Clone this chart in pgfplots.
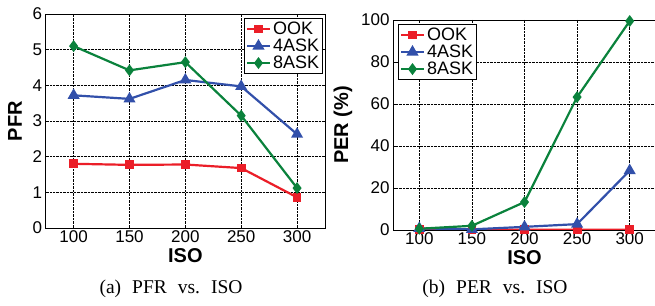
\documentclass[border=0pt]{standalone}
\usepackage{pgfplots}
\pgfplotsset{compat=1.18}
\usepackage{fontspec}
\setmainfont{Liberation Serif}
\setsansfont{Liberation Sans}
\definecolor{cred}{RGB}{235,30,40}
\definecolor{cblue}{RGB}{50,80,170}
\definecolor{cgreen}{RGB}{10,130,60}
\pgfplotsset{
  myax/.style={
    scale only axis,
    xmin=75, xmax=325,
    xtick={100,150,200,250,300},
    grid=major,
    grid style={black, densely dotted, line width=0.5pt},
    axis line style={black, line width=0.8pt},
    major tick length=3pt,
    tick style={black, line width=0.6pt},
    tick align=inside,
    xtick pos=bottom, ytick pos=left,
    /pgf/number format/assume math mode=true,
    ticklabel style={font=\sffamily\fontsize{17}{19}\selectfont},
    xticklabel style={yshift=1pt},
    label style={font=\sffamily\bfseries\fontsize{20}{22}\selectfont},
    xlabel={ISO},
    xlabel style={yshift=1pt},
    legend style={font=\sffamily\fontsize{18}{20}\selectfont, draw=black, line width=0.8pt,
      inner sep=1.5pt, row sep=-1pt, cells={anchor=west}},
    legend cell align=left,
    legend image code/.code={\draw[mark repeat=2,mark phase=2] plot coordinates {(0pt,0pt) (11.5pt,0pt) (23pt,0pt)};},
    every axis plot/.append style={line width=2.2pt},
  },
  ook/.style={cred, mark=square*, mark size=3.3pt, mark options={solid}},
  ask4/.style={cblue, mark=triangle*, mark size=4.8pt, mark options={solid}},
  ask8/.style={cgreen, mark=diamond*, mark size=4.2pt, mark options={solid}},
}
\newcommand{\gap}{\hspace{11pt}}
\begin{document}
\begin{tikzpicture}
\begin{axis}[myax, at={(45.7pt,77pt)}, anchor=south west, width=279.3pt, height=214pt,
  ymin=0, ymax=6, ytick={0,1,2,3,4,5,6}, ylabel={PFR}, ylabel style={yshift=4pt},
  legend style={at={(1,1)}, anchor=north east, xshift=-2pt, yshift=-4pt}]
\addplot[ook] coordinates {(100,1.80) (150,1.77) (200,1.78) (250,1.68) (300,0.86)};
\addlegendentry{OOK}
\addplot[ask4] coordinates {(100,3.72) (150,3.62) (200,4.15) (250,3.97) (300,2.63)};
\addlegendentry{4ASK}
\addplot[ask8] coordinates {(100,5.10) (150,4.42) (200,4.65) (250,3.15) (300,1.12)};
\addlegendentry{8ASK}
\end{axis}
\begin{axis}[myax, at={(393pt,75pt)}, anchor=south west, width=263pt, height=210pt,
  ymin=0, ymax=100, ytick={0,20,40,60,80,100}, ylabel={PER (\%)}, ylabel style={yshift=2pt},
  legend style={at={(0,1)}, anchor=north west, xshift=5pt, yshift=-4pt}]
\addplot[ook] coordinates {(100,0.2) (150,0.1) (200,0.2) (250,0.1) (300,0.1)};
\addlegendentry{OOK}
\addplot[ask4] coordinates {(100,0.8) (150,0.3) (200,1.5) (250,2.8) (300,28.3)};
\addlegendentry{4ASK}
\addplot[ask8] coordinates {(100,0.6) (150,2.0) (200,13.3) (250,63.3) (300,99.5)};
\addlegendentry{8ASK}
\end{axis}
\node[font=\fontsize{19.5}{22}\selectfont] at (171pt,16pt) {(a)\gap PFR\gap vs.\gap ISO};
\node[font=\fontsize{19.5}{22}\selectfont] at (495pt,16pt) {(b)\gap PER\gap vs.\gap ISO};
\pgfresetboundingbox
\useasboundingbox (0pt,0pt) rectangle (655pt,305pt);
\end{tikzpicture}
\end{document}
